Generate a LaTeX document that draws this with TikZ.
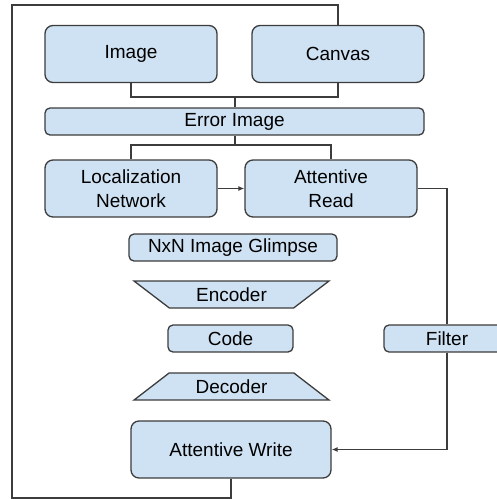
\documentclass[tikz,border=0pt]{standalone}
\usepackage{fontspec}
\setmainfont{Liberation Sans}
\usetikzlibrary{arrows.meta,positioning,shapes.geometric}
\definecolor{edge}{RGB}{60,60,60}
\definecolor{pale}{RGB}{207,226,243}
\tikzset{
  blk/.style={draw=edge,fill=pale,line width=1.3pt,rounded corners=8pt,inner sep=0pt,align=center,
    font=\fontsize{19}{24}\selectfont,minimum width=172pt,minimum height=57pt},
  bar/.style={blk,rounded corners=5pt,minimum height=27pt},
  trap/.style={trapezium,draw=edge,fill=pale,line width=1.3pt,inner sep=0pt,font=\fontsize{19}{24}\selectfont,
    trapezium stretches=true,trapezium angle=34.7,minimum width=195pt,minimum height=27pt},
  wire/.style={edge,line width=1.3pt},
  feed/.style={wire,-{Latex[length=6pt,width=5pt]}},
}
\begin{document}
\begin{tikzpicture}[x=1pt,y=-1pt]
\useasboundingbox (0,0) rectangle (497,499);
% blocks
\node[blk] (img) at (131,54) {Image};
\node[blk] (cnv) at (338,54) {Canvas};
\node[bar, minimum width=379pt] (err) at (234.5,121.5) {Error Image};
\node[blk] (loc) at (131,188.5) {Localization\\Network};
\node[blk] (read) at (331,188.5) {Attentive\\Read};
\node[bar, minimum width=208pt] (glim) at (233,247.5) {NxN Image Glimpse};
\node[trap, shape border rotate=180] (enc) at (231.5,294.5) {Encoder};
\node[bar, minimum width=125pt] (code) at (230.5,338.5) {Code};
\node[trap] (dec) at (231.5,386.5) {Decoder};
\node[bar, minimum width=126pt] (filt) at (447,338.5) {Filter};
\node[blk, minimum width=200pt] (write) at (231,449.5) {Attentive Write};
% junctions
\coordinate (tj) at (235,97);
\coordinate (bj) at (235,145);
\coordinate (lb) at (12,498);
\coordinate (lt) at (12,5);
% wiring
\draw[wire] (img.south) |- (tj);
\draw[wire] (cnv.south) |- (tj);
\draw[wire] (tj) -- (tj |- err.north);
\draw[wire] (bj |- err.south) -- (bj);
\draw[wire] (loc.north) |- (bj);
\draw[wire] (read.north) |- (bj);
\draw[feed] (loc.east) -- (read.west);
\draw[wire] (read.east) -| (filt.north);
\draw[feed] (filt.south) |- (write.east);
\draw[wire] (write.south) |- (lb) -- (lt) -| (cnv.north);
\end{tikzpicture}
\end{document}
